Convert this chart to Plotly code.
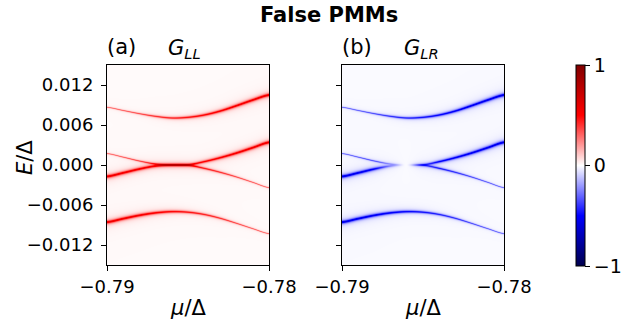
import numpy as np
import plotly.graph_objects as go

# ---- data ----
mu_pts = [-0.790, -0.789, -0.788, -0.787, -0.786, -0.785, -0.784, -0.783, -0.782, -0.781, -0.780]
E_outer_pos = [0.00866, 0.00818, 0.00770, 0.00730, 0.00705, 0.00715, 0.00750, 0.00810, 0.00890, 0.00975, 0.01050]
E_outer_neg = [-0.00857, -0.00805, -0.00755, -0.00718, -0.00700, -0.00708, -0.00742, -0.00800, -0.00875, -0.00955, -0.01030]
E_inner = [0.00172, 0.00118, 0.00060, 0.00015, 0.00000, 0.00003, 0.00050, 0.00110, 0.00180, 0.00260, 0.00340]
weight_pos = [0.10, 0.15, 0.25, 0.40, 0.50, 0.60, 0.70, 0.80, 0.90, 0.95, 1.00]
weight_neg = [1.00, 0.95, 0.90, 0.80, 0.70, 0.60, 0.50, 0.40, 0.25, 0.15, 0.10]
nonlocal_inner = [1.0, 1.0, 0.9, 0.4, 0.0, 0.6, 1.0, 1.0, 1.0, 1.0, 1.0]
bg_LL = 0.01
bg_LR = -0.01

x_ticks = [-0.79, -0.78]
x_ticktext = ["\u22120.79", "\u22120.78"]
y_ticks = [0.012, 0.006, 0.0, -0.006, -0.012]
y_ticktext = ["0.012", "0.006", "0.000", "\u22120.006", "\u22120.012"]
cbar_ticks = [1, 0, -1]
cbar_ticktext = ["1", "0", "\u22121"]

# ---- rendering grid ----
mu_lo, mu_hi = -0.79, -0.78
E_lo, E_hi = -0.015, 0.015
nx, ny = 162, 200
dx = (mu_hi - mu_lo) / nx
dy = (E_hi - E_lo) / ny
xc = mu_lo + (np.arange(nx) + 0.5) * dx
yc = E_lo + (np.arange(ny) + 0.5) * dy


def smooth(xp, fp, x):
    """Catmull-Rom evaluation through the read points."""
    xp = np.asarray(xp); fp = np.asarray(fp, dtype=float)
    n = len(xp)
    h = xp[1] - xp[0]
    s = np.clip((x - xp[0]) / h, 0, n - 1 - 1e-9)
    i = np.floor(s).astype(int)
    t = s - i
    p0 = fp[np.clip(i - 1, 0, n - 1)]
    p1 = fp[i]
    p2 = fp[np.clip(i + 1, 0, n - 1)]
    p3 = fp[np.clip(i + 2, 0, n - 1)]
    return 0.5 * ((2 * p1) + (-p0 + p2) * t + (2 * p0 - 5 * p1 + 4 * p2 - p3) * t ** 2
                  + (-p0 + 3 * p1 - 3 * p2 + p3) * t ** 3)


def peak(E0, w, scale):
    g = 0.00004 + 0.00016 * w
    A = (0.35 + 0.25 * w) * scale
    Y = yc[:, None]
    return A * g / dy * (np.arctan((Y + dy / 2 - E0) / g) - np.arctan((Y - dy / 2 - E0) / g))


eo_p = smooth(mu_pts, E_outer_pos, xc)[None, :]
eo_n = smooth(mu_pts, E_outer_neg, xc)[None, :]
ei = smooth(mu_pts, E_inner, xc)[None, :]
wp = np.clip(smooth(mu_pts, weight_pos, xc), 0, 1)[None, :]
wn = np.clip(smooth(mu_pts, weight_neg, xc), 0, 1)[None, :]
nl = np.clip(smooth(mu_pts, nonlocal_inner, xc), 0, 1)[None, :]

Z_LL = bg_LL + peak(eo_p, wp, 1) + peak(eo_n, wn, 1) + peak(ei, wp, 1) + peak(-ei, wn, 1)
Z_LR = bg_LR - (peak(eo_p, wp, 1) + peak(eo_n, wn, 1) + peak(ei, wp, nl) + peak(-ei, wn, nl))
Z_LL = np.clip(Z_LL, -1, 1)
Z_LR = np.clip(Z_LR, -1, 1)

seismic = [[0.0, "rgb(0,0,77)"], [0.25, "rgb(0,0,255)"], [0.5, "rgb(255,255,255)"],
           [0.75, "rgb(255,0,0)"], [1.0, "rgb(128,0,0)"]]

W, H = 627, 322
FONT = "DejaVu Sans"


def px(x):
    return x / W


def py(y):
    return 1 - y / H


fig = go.Figure()
fig.add_trace(go.Heatmap(x=xc, y=yc, z=Z_LL, zmin=-1, zmax=1, colorscale=seismic,
                         xaxis="x", yaxis="y",
                         colorbar=dict(x=px(576), xanchor="left", y=py(266), yanchor="bottom",
                                       len=201 / H, lenmode="fraction", thickness=9,
                                       outlinewidth=1, outlinecolor="black",
                                       xpad=0, ypad=0, ticks="outside", ticklen=5,
                                       tickcolor="black", tickvals=cbar_ticks,
                                       ticktext=cbar_ticktext,
                                       tickfont=dict(family=FONT, size=19, color="black"))))
fig.add_trace(go.Heatmap(x=xc, y=yc, z=Z_LR, zmin=-1, zmax=1, colorscale=seismic,
                         showscale=False, xaxis="x2", yaxis="y2"))

ax_common = dict(showgrid=False, zeroline=False, showline=True, linecolor="black", linewidth=1,
                 mirror=True, ticks="outside", ticklen=5, tickcolor="black", automargin=False,
                 tickfont=dict(family=FONT, size=18, color="black"))

fig.update_layout(
    width=W, height=H, margin=dict(l=0, r=0, t=0, b=0, autoexpand=False),
    paper_bgcolor="white", plot_bgcolor="white",
    xaxis=dict(domain=[px(107), px(269)], range=[mu_lo, mu_hi], tickvals=x_ticks,
               ticktext=x_ticktext, anchor="y", **ax_common),
    yaxis=dict(domain=[py(265), py(65)], range=[E_lo, E_hi], tickvals=y_ticks,
               ticktext=y_ticktext, anchor="x", ticklabelstandoff=4, **ax_common),
    xaxis2=dict(domain=[px(342), px(504)], range=[mu_lo, mu_hi], tickvals=x_ticks,
                ticktext=x_ticktext, anchor="y2", **ax_common),
    yaxis2=dict(domain=[py(265), py(65)], range=[E_lo, E_hi], tickvals=y_ticks,
                showticklabels=False, anchor="x2", **ax_common),
    showlegend=False,
)

def ann(text, x, y, size, xanchor="center", angle=0):
    fig.add_annotation(text=text, x=px(x), y=py(y), xref="paper", yref="paper",
                       xanchor=xanchor, yanchor="middle", showarrow=False, textangle=angle,
                       font=dict(family=FONT, size=size, color="black"))

ann("<b>False PMMs</b>", 329, 15, 21)
ann("(a)", 105, 47, 21, xanchor="left")
ann("<i>G</i><sub><i>LL</i></sub>", 166, 49, 21, xanchor="left")
ann("(b)", 340, 47, 21, xanchor="left")
ann("<i>G</i><sub><i>LR</i></sub>", 402, 49, 21, xanchor="left")
ann("<i>E</i>/\u0394", 25, 158, 21, angle=-90)
ann("<i>\u03bc</i>/\u0394", 188, 308, 21)
ann("<i>\u03bc</i>/\u0394", 423, 308, 21)

fig.write_html("out.html", config={"displayModeBar": False},
               post_script="document.body.style.margin='0px';document.body.style.overflow='hidden';")
